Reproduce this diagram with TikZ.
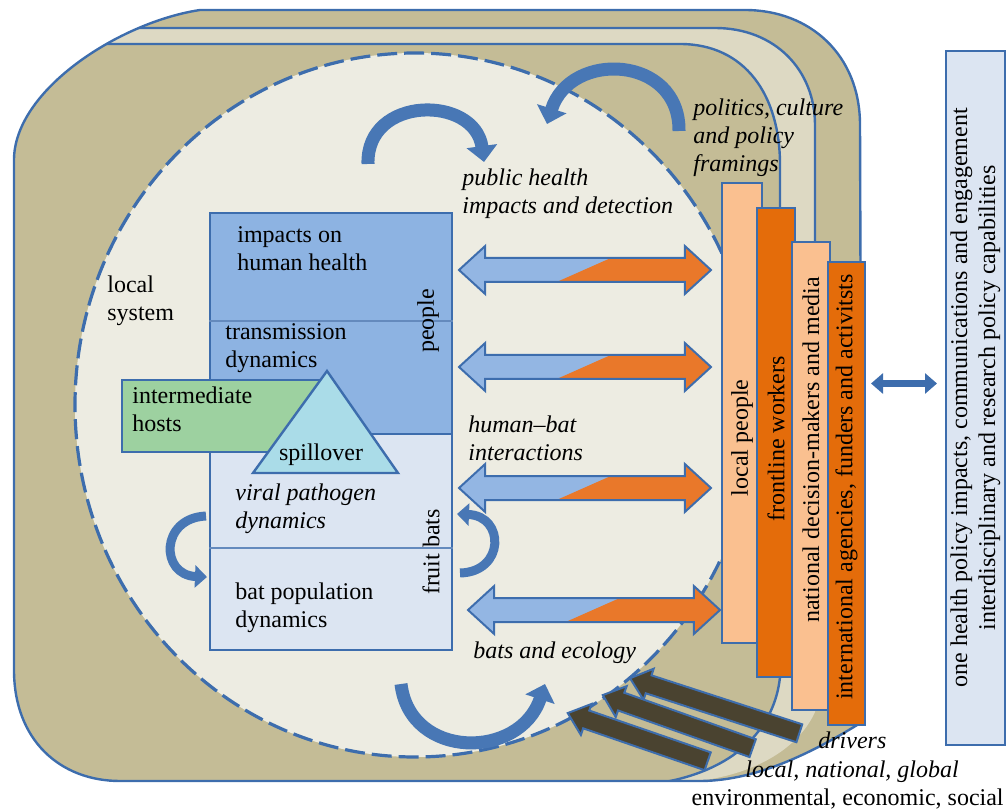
\documentclass[tikz,border=0pt]{standalone}
\usepackage{fontspec}
\setmainfont{Liberation Serif}
\usetikzlibrary{arrows.meta,shapes.arrows,calc}

\definecolor{tanBg}{HTML}{C4BC96}
\definecolor{sandBand}{HTML}{DDD9C3}
\definecolor{creamCore}{HTML}{EDECE2}
\definecolor{edgeBlue}{HTML}{3D6DAD}
\definecolor{peopleBlue}{HTML}{8DB3E2}
\definecolor{batsBlue}{HTML}{DCE5F2}
\definecolor{hostGreen}{HTML}{9DD1A0}
\definecolor{spillCyan}{HTML}{AADCE8}
\definecolor{peach}{HTML}{FAC090}
\definecolor{burnt}{HTML}{E46C0A}
\definecolor{cycleBlue}{HTML}{4877B5}
\definecolor{flowBlue}{HTML}{93B6E3}
\definecolor{flowOrange}{HTML}{E9782A}
\definecolor{driverDark}{HTML}{4A4330}

% outline of the outer frame, in pixels of the figure
\newcommand{\outerFrame}{(14,160) .. controls (14,90) and (120,22) .. (200,10) -- (745,10)
    .. controls (810,10) and (860,55) .. (860,125) -- (862,722)
    .. controls (820,748) and (760,781) .. (700,781) -- (120,781)
    .. controls (60,781) and (14,740) .. (14,670) -- cycle}

\begin{document}
\begin{tikzpicture}
    [x=0.5pt, y=-0.5pt,
    every node/.style={font=\fontsize{12pt}{14pt}\selectfont},
    % Text blocks
    plainText/.style={inner sep=0pt, align=left, anchor=north west},
    italicText/.style={plainText, font=\fontsize{12pt}{14pt}\selectfont\itshape},
    sideText/.style={rotate=90, inner sep=0pt},
    % Boxes of the local system
    peopleBox/.style={rectangle, draw=edgeBlue, fill=peopleBlue, line width=1pt, inner sep=0pt, minimum width=121pt},
    batsBox/.style={peopleBox, fill=batsBlue},
    hostBox/.style={peopleBox, fill=hostGreen, minimum width=99pt, minimum height=36pt},
    divider/.style={draw=edgeBlue!80, line width=0.8pt},
    % Actor bars
    barLight/.style={rectangle, draw=edgeBlue, fill=peach, line width=1pt, inner sep=0pt, minimum width=19pt},
    barDark/.style={barLight, fill=burnt},
    oneHealthBox/.style={rectangle, draw=edgeBlue, fill=batsBlue, line width=1pt, inner sep=0pt, align=center, rotate=90, minimum width=347pt, minimum height=29.5pt},
    % Arrows
    flowArrow/.style={double arrow, draw=edgeBlue, line width=1pt, fill=flowBlue, inner xsep=0pt, inner ysep=5.5pt,
        minimum height=126pt, double arrow head extend=6pt, double arrow tip angle=85,
        path picture={\fill[flowOrange] ($(path picture bounding box.south west)!0.28!(path picture bounding box.south east)$)
            -- ($(path picture bounding box.north west)!0.71!(path picture bounding box.north east)$)
            -- (path picture bounding box.north east) -- (path picture bounding box.south east) -- cycle;}},
    driverArrow/.style={single arrow, draw=edgeBlue, line width=1pt, fill=driverDark, inner xsep=0pt, inner ysep=4.2pt,
        single arrow head extend=3.5pt, single arrow tip angle=80},
    cycleArrow/.style={draw=cycleBlue, line width=6.5pt, -{Triangle[width=15pt,length=8pt]}},
    smallCycle/.style={draw=cycleBlue, line width=4.5pt, -{Triangle[width=11pt,length=6pt]}},
    linkArrow/.style={draw=edgeBlue, line width=3.5pt, {Triangle[width=10pt,length=6pt]}-{Triangle[width=10pt,length=6pt]}}]

    \useasboundingbox (0,0) rectangle (1006,812);

    % Nested frames: global, national, local
    \fill[tanBg] \outerFrame;
    \begin{scope}
        \clip \outerFrame;
        \fill[sandBand] (0,28) -- (715,28) .. controls (775,28) and (815,70) .. (815,125) -- (815,712)
            .. controls (800,745) and (760,775) .. (690,782) -- (0,790) -- cycle;
        \draw[edgeBlue, line width=1.2pt] (0,28) -- (715,28) .. controls (775,28) and (815,70) .. (815,125) -- (815,300);
        \fill[tanBg] (0,44) -- (680,44) .. controls (745,44) and (780,95) .. (780,165) -- (780,677)
            .. controls (775,725) and (740,768) .. (665,782) -- (0,790) -- cycle;
        \draw[edgeBlue, line width=1.2pt] (0,44) -- (680,44) .. controls (745,44) and (780,95) .. (780,165) -- (780,677)
            .. controls (775,725) and (740,768) .. (665,782);
    \end{scope}
    \draw[edgeBlue, line width=1.2pt] \outerFrame;

    % Local system
    \draw[fill=creamCore, draw=edgeBlue, line width=1.6pt, dash pattern=on 10pt off 3.5pt] (415,405) ellipse [x radius=340, y radius=352];

    % Cycles
    \coordinate (healthloopstart) at (368,164);
    \coordinate (healthloopend)   at (484,162);
    \coordinate (policyloopstart) at (679,131);
    \coordinate (policyloopend)   at (547,124);
    \coordinate (viralloopstart)  at (206,516);
    \coordinate (viralloopend)    at (207,577);
    \coordinate (batloopstart)    at (460,573);
    \coordinate (batloopend)      at (457,514);
    \coordinate (ecoloopstart)    at (401,684);
    \coordinate (ecoloopend)      at (545,684);
    \draw[cycleArrow] (healthloopstart) .. controls (366,95) and (475,95) .. (healthloopend);
    \draw[cycleArrow] (policyloopstart) .. controls (680,55) and (570,50) .. (policyloopend);
    \draw[smallCycle] (viralloopstart) .. controls (160,518) and (160,575) .. (viralloopend);
    \draw[smallCycle] (batloopstart) .. controls (505,572) and (505,516) .. (batloopend);
    \draw[cycleArrow] (ecoloopstart) .. controls (410,760) and (520,760) .. (ecoloopend);

    % People and fruit bats
    \node [peopleBox, minimum height=110.5pt] (peoplebox) at (331,323.5) {};
    \node [batsBox, minimum height=108pt]     (batsbox)   at (331,542) {};
    \draw[divider] (peoplebox.west |- 0,321) -- (peoplebox.east |- 0,321);
    \draw[divider] (batsbox.west |- 0,548) -- (batsbox.east |- 0,548);
    \node [hostBox] (hostbox) at (221,416) {};
    \filldraw[fill=spillCyan, draw=edgeBlue, line width=1.2pt] (327,371) -- (398,473) -- (253,473) -- cycle;

    \node [plainText]  (localsystem)  at (107,275.6) {local\\system};
    \node [plainText]  (impacts)      at (237,226.6) {impacts on\\human health};
    \node [plainText]  (transmission) at (225,323.6) {transmission\\dynamics};
    \node [plainText]  (hosts)        at (132,386.6) {intermediate\\hosts};
    \node [anchor=base, inner sep=0pt] (spillover) at (321,460) {spillover};
    \node [italicText] (viral)        at (235,483.6) {viral pathogen\\dynamics};
    \node [plainText]  (batpop)       at (235,582.6) {bat population\\dynamics};
    \node [sideText]   (people)       at (428,321) {people};
    \node [sideText]   (fruitbats)    at (431,552) {fruit bats};

    \node [italicText] (publichealth) at (462,168.6) {public health\\impacts and detection};
    \node [italicText] (politics)     at (693,98.6)  {politics, culture\\and policy\\framings};
    \node [italicText] (humanbat)     at (468,415.6) {human–bat\\interactions};
    \node [italicText, anchor=base west] (batsecology) at (473,658) {bats and ecology};

    % Flows between the local system and the actors
    \node [flowArrow] (healthflow)       at (585,270) {};
    \node [flowArrow] (transmissionflow) at (585,367) {};
    \node [flowArrow] (interactionflow)  at (585,488) {};
    \node [flowArrow] (ecologyflow)      at (594,610) {};

    % Actors
    \node [barLight, minimum width=20pt, minimum height=230pt]   (localpeople) at (742,413) {};
    \node [sideText] (localpeopletext) at (742,438) {local people};
    \node [barDark, minimum height=234.5pt] (frontline) at (776,442.5) {};
    \node [sideText] (frontlinetext) at (776,439) {frontline workers};
    \node [barLight, minimum height=234pt]  (national) at (811,476) {};
    \node [sideText] (nationaltext) at (811,450) {national decision-makers and media};
    \node [barDark, minimum width=18.5pt, minimum height=231.5pt] (intl) at (846.5,493.5) {};
    \node [sideText] (intltext) at (846.5,487) {international agencies, funders and activitsts};

    % Drivers
    \node [driverArrow, minimum height=89pt,   rotate=162]   (driverone)   at (720,707.5) {};
    \node [driverArrow, minimum height=79.5pt, rotate=160.5] (drivertwo)   at (683,723.5) {};
    \node [driverArrow, minimum height=74pt,   rotate=161]   (driverthree) at (643,739) {};
    \node [italicText, anchor=base west] (drivers) at (818,748) {drivers};
    \node [italicText, anchor=base west] (scales)  at (745,777) {local, national, global};
    \node [anchor=base east, inner sep=0pt] (driverkinds) at (1004,805) {environmental, economic, social};

    % One health outcomes
    \node [oneHealthBox] (onehealth) at (975.5,398) {one health policy impacts, communications and engagement\\interdisciplinary and research policy capabilities};
    \draw[linkArrow, shorten <=2.5pt, shorten >=4pt] ([yshift=55pt]intl.east) -- ([yshift=55pt]intl.east -| onehealth.north);
\end{tikzpicture}
\end{document}
